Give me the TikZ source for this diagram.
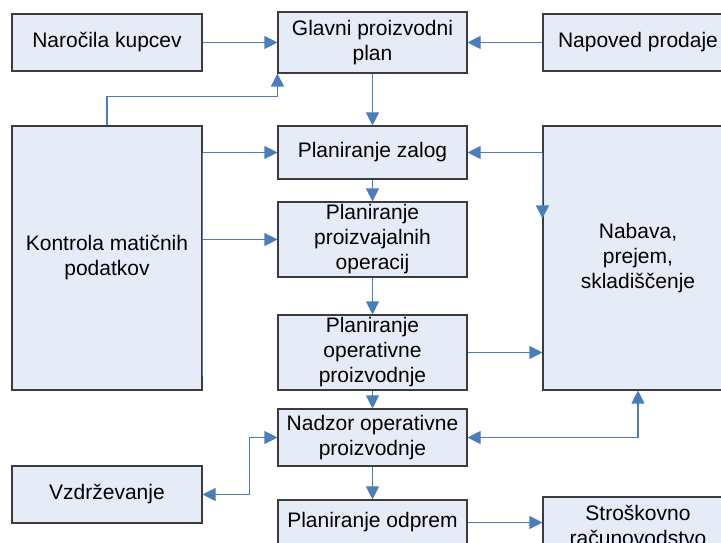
\documentclass[tikz,border=0pt]{standalone}
\usepackage{fontspec}
\setmainfont{Liberation Sans}
\usetikzlibrary{arrows.meta}
\definecolor{boxfill}{RGB}{230,236,247}
\definecolor{boxline}{RGB}{60,60,60}
\definecolor{linkblue}{RGB}{74,126,187}
\tikzset{
  box/.style={draw=boxline, fill=boxfill, line width=1.1pt, rectangle,
    inner sep=0pt, align=center, text=black,
    font=\fontsize{21}{25}\selectfont},
  link/.style={draw=linkblue, line width=1.1pt,
    -{Triangle[length=13pt,width=13pt]}},
  biglink/.style={draw=linkblue, line width=1.1pt,
    {Triangle[length=13pt,width=13pt]}-{Triangle[length=13pt,width=13pt]}},
  plain/.style={draw=linkblue, line width=1.1pt}
}
\begin{document}
\begin{tikzpicture}[x=1pt,y=-1pt]
\useasboundingbox (0,0) rectangle (721,543);
\clip (0,0) rectangle (721,543);
\fill[white] (0,0) rectangle (721,543);

% boxes: left column
\node[box, minimum width=190pt, minimum height=57pt] (narocila) at (107,42.5) {Naročila kupcev};
\node[box, minimum width=190pt, minimum height=264pt] (kontrola) at (107,258) {Kontrola matičnih\\podatkov};
\node[box, minimum width=190pt, minimum height=57pt] (vzdr) at (107,494.5) {Vzdrževanje};

% boxes: middle column
\node[box, minimum width=189pt, minimum height=61pt] (glavni) at (372.5,42.5) {Glavni proizvodni\\plan};
\node[box, minimum width=189pt, minimum height=53pt] (zalog) at (372.5,152.5) {Planiranje zalog};
\node[box, minimum width=189pt, minimum height=75pt] (operacij) at (372.5,239.5) {Planiranje\\proizvajalnih\\operacij};
\node[box, minimum width=189pt, minimum height=75pt] (operativne) at (372.5,352.5) {Planiranje\\operativne\\proizvodnje};
\node[box, minimum width=189pt, minimum height=57pt] (nadzor) at (372.5,437.5) {Nadzor operativne\\proizvodnje};
\node[box, minimum width=189pt, minimum height=45pt] (odprem) at (372.5,522.5) {Planiranje odprem};

% boxes: right column
\node[box, minimum width=190pt, minimum height=57pt] (napoved) at (638,42.5) {Napoved prodaje};
\node[box, minimum width=190pt, minimum height=264pt] (nabava) at (638,258) {Nabava,\\prejem,\\skladiščenje};
\node[box, minimum width=190pt, minimum height=57pt] (strosk) at (638,525.5) {Stroškovno\\računovodstvo};

% connectors into the master plan
\draw[link] (narocila.east) -- (glavni.west);
\draw[link] (napoved.west) -- (glavni.east);
\draw[link] (kontrola.north) -- ++(0,-29) -| (glavni.south west);

% main vertical flow
\draw[link] (glavni.south) -- (zalog.north);
\draw[link] (zalog.south) -- (operacij.north);
\draw[link] (operacij.south) -- (operativne.north);
\draw[link] (operativne.south) -- (nadzor.north);
\draw[link] (nadzor.south) -- (odprem.north);

% master data control
\draw[plain] (kontrola.east |- zalog.west) -- ([yshift=15pt]kontrola.south east);
\draw[link] (kontrola.east |- zalog.west) -- (zalog.west);
\draw[link] (kontrola.east |- operacij.west) -- (operacij.west);

% purchasing
\coordinate (nbtip) at ([yshift=-93pt]nabava.north west);
\draw[link] (nabava.west |- zalog.east) -- (zalog.east);
\draw[link] (nabava.west |- zalog.east) -- (nbtip);
\draw[link] (operativne.east) -- (operativne.east -| nabava.west);
\draw[biglink] (nadzor.east) -| (nabava.south);

% maintenance and costing
\draw[biglink] (nadzor.west) -- ++(-28,0) |- (vzdr.east);
\draw[link] (odprem.east) -- (odprem.east -| strosk.west);
\end{tikzpicture}
\end{document}
